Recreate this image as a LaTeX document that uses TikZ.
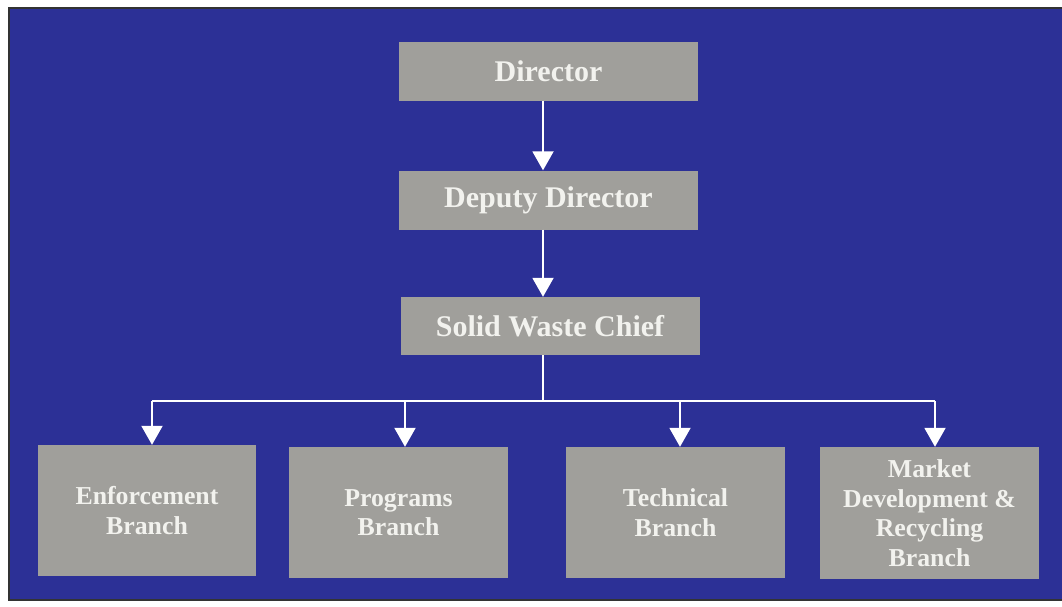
\documentclass[tikz,border=0pt]{standalone}
\usepackage{fontspec}
\setmainfont{Liberation Serif}
\usetikzlibrary{arrows.meta}
\definecolor{bgblue}{RGB}{44,48,150}
\definecolor{boxgray}{RGB}{160,159,155}
\definecolor{txt}{RGB}{242,242,238}
\tikzset{
  topbox/.style={fill=boxgray, draw=none, text=txt, minimum width=299pt, minimum height=59pt, inner sep=0pt,
    font=\fontsize{30}{35}\selectfont\bfseries},
  branchbox/.style={fill=boxgray, draw=none, text=txt, minimum width=219pt, minimum height=131pt, inner sep=0pt,
    align=center, font=\fontsize{25.8}{29.5}\selectfont\bfseries},
  conn/.style={draw=white, line width=2pt},
  arr/.style={conn, -{Triangle[width=21pt,length=19pt]}}
}
\begin{document}
\begin{tikzpicture}[x=1pt,y=-1pt]
\useasboundingbox (0,0) rectangle (1062,606);
\fill[white] (0,0) rectangle (1062,606);
\fill[bgblue] (9,8) rectangle (1062,600);
\draw[black!80, line width=1.2pt] (1062,8) -- (9,8) -- (9,600) -- (1062,600);

\node[topbox] (dir) at (548.5,71) {Director};
\node[topbox] (dep) at (548.5,200) {Deputy Director};
\node[topbox, minimum height=58pt] (swc) at (550,326) {Solid Waste Chief};

\node[branchbox, minimum width=218pt] (enf) at (147,510.5) {Enforcement\\Branch};
\node[branchbox] (prg) at (398.5,512.5) {Programs\\Branch};
\node[branchbox] (tec) at (675.5,512.5) {Technical\\Branch};
\node[branchbox, minimum height=132pt] (mkt) at (929.5,513) {Market\\Development \&\\Recycling\\Branch};

\coordinate (bus) at (543,401);

\draw[arr] (dir.south -| bus) -- (dep.north -| bus);
\draw[arr] (dep.south -| bus) -- (swc.north -| bus);
\draw[conn] (swc.south -| bus) -- (bus);
\draw[conn] ([xshift=5pt]enf.north |- bus) -- ([xshift=5.5pt]mkt.north |- bus);
\draw[arr] ([xshift=5pt]enf.north |- bus) -- ([xshift=5pt]enf.north);
\draw[arr] ([xshift=6.5pt]prg.north |- bus) -- ([xshift=6.5pt]prg.north);
\draw[arr] ([xshift=4.5pt]tec.north |- bus) -- ([xshift=4.5pt]tec.north);
\draw[arr] ([xshift=5.5pt]mkt.north |- bus) -- ([xshift=5.5pt]mkt.north);
\end{tikzpicture}
\end{document}
